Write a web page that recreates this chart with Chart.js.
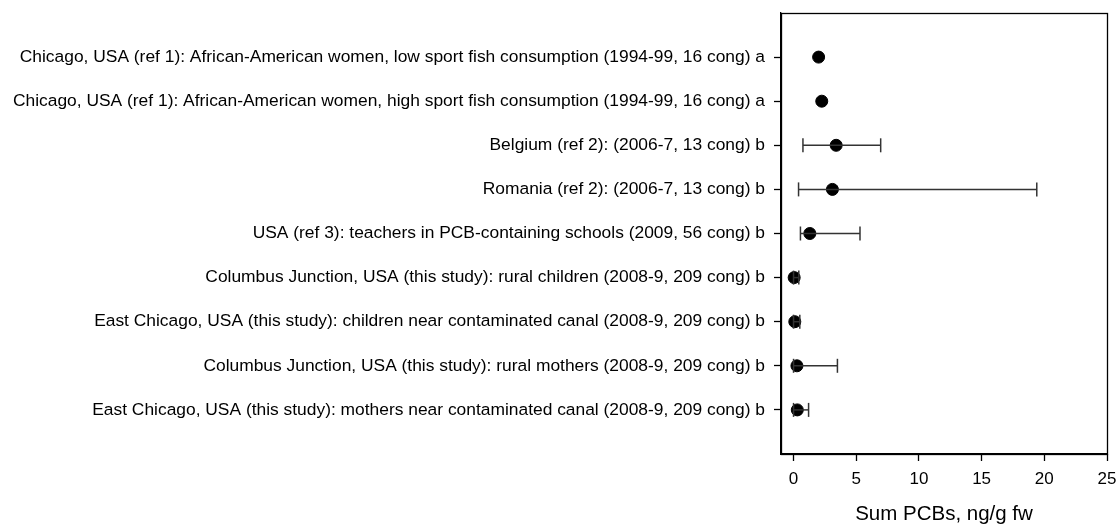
<!DOCTYPE html>
<html>
<head>
<meta charset="utf-8">
<script src="https://cdn.jsdelivr.net/npm/chart.js@4.4.1/dist/chart.umd.min.js"></script>
<style>
  html, body { margin: 0; padding: 0; background: #fff; }
  #wrap { width: 1120px; height: 527px; }
</style>
</head>
<body>
<div id="wrap"><canvas id="myChart"></canvas></div>
<script>
const labels = [
    'Chicago, USA (ref 1): African-American women, low sport fish consumption (1994-99, 16 cong) a',
    'Chicago, USA (ref 1): African-American women, high sport fish consumption (1994-99, 16 cong) a',
    'Belgium (ref 2): (2006-7, 13 cong) b',
    'Romania (ref 2): (2006-7, 13 cong) b',
    'USA (ref 3): teachers in PCB-containing schools (2009, 56 cong) b',
    'Columbus Junction, USA (this study): rural children (2008-9, 209 cong) b',
    'East Chicago, USA (this study): children near contaminated canal (2008-9, 209 cong) b',
    'Columbus Junction, USA (this study): rural mothers (2008-9, 209 cong) b',
    'East Chicago, USA (this study): mothers near contaminated canal (2008-9, 209 cong) b'
];
const means = [2.0, 2.25, 3.4, 3.1, 1.3, 0.05, 0.1, 0.27, 0.3];
const lows = [null, null, 0.75, 0.4, 0.55, 0.0, 0.0, 0.0, 0.0];
const highs = [null, null, 6.95, 19.4, 5.3, 0.42, 0.5, 3.5, 1.2];
const xTicks = [0, 5, 10, 15, 20, 25];
const xTitle = 'Sum PCBs, ng/g fw';

const ctx = document.getElementById('myChart');
const font = 'Liberation Sans, Arial, sans-serif';

// one line dataset per error bar, caps drawn as rotated 'line' points
const errorSets = [];
labels.forEach((lab, i) => {
    if (lows[i] === null) return;
    errorSets.push({
        type: 'line',
        data: [{x: lows[i], y: i + 1}, {x: highs[i], y: i + 1}],
        borderColor: '#333',
        borderWidth: 1.5,
        pointStyle: 'line',
        pointRotation: 90,
        pointRadius: 7,
        pointBorderColor: '#333',
        pointBorderWidth: 1.5,
        showLine: true,
        fill: false
    });
});

const boxPlugin = {
    id: 'box',
    afterDraw(chart) {
        const a = chart.chartArea;
        const c = chart.ctx;
        c.save();
        c.strokeStyle = '#000';
        c.lineWidth = 1.3;
        c.strokeRect(Math.round(a.left) + 0.5, Math.round(a.top) + 0.5,
            Math.round(a.right - a.left), Math.round(a.bottom - a.top));
        c.restore();
    }
};

new Chart(ctx, {
    type: 'scatter',
    data: {
        datasets: [
            ...errorSets,
            {
                data: means.map((v, i) => ({x: v, y: i + 1})),
                backgroundColor: '#000',
                borderColor: '#000',
                pointRadius: 6,
                pointHoverRadius: 6
            }
        ]
    },
    options: {
        responsive: true,
        maintainAspectRatio: false,
        animation: false,
        layout: {
            padding: {top: 13, right: 13, left: 0, bottom: 0}
        },
        plugins: {
            legend: {display: false},
            tooltip: {enabled: false}
        },
        scales: {
            x: {
                type: 'linear',
                min: -1,
                max: 25,
                afterBuildTicks: s => { s.ticks = xTicks.map(v => ({value: v})); },
                grid: {drawOnChartArea: false, tickLength: 7, tickColor: '#000', tickWidth: 1.3},
                border: {display: true, color: '#000', width: 1.3},
                ticks: {color: '#000', padding: 8, font: {family: font, size: 17}},
                title: {display: true, text: xTitle, color: '#000', font: {family: font, size: 20.5}, padding: {top: 4, bottom: 0}},
                afterFit: s => { s.height = 73; s.paddingLeft = 0; s.paddingRight = 0; }
            },
            y: {
                type: 'linear',
                min: 0,
                max: 10,
                reverse: true,
                afterBuildTicks: s => { s.ticks = labels.map((l, i) => ({value: i + 1})); },
                grid: {drawOnChartArea: false, tickLength: 7, tickColor: '#000', tickWidth: 1.3},
                border: {display: true, color: '#000', width: 1.3},
                ticks: {
                    color: '#000',
                    padding: 9,
                    autoSkip: false,
                    font: {family: font, size: 17.4},
                    callback: v => labels[v - 1]
                },
                afterFit: s => { s.width = 781; s.paddingTop = 0; s.paddingBottom = 0; }
            }
        }
    },
    plugins: [boxPlugin]
});
</script>
</body>
</html>
